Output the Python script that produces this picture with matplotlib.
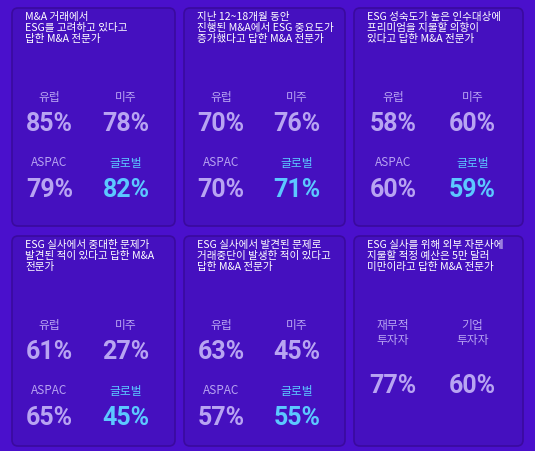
import matplotlib
matplotlib.use("Agg")
import matplotlib.pyplot as plt
from matplotlib.patches import FancyBboxPatch

plt.rcParams['font.family'] = ['Noto Sans CJK KR', 'DejaVu Sans']

titles = [
    "M&A 거래에서\nESG를 고려하고 있다고\n답한 M&A 전문가",
    "지난 12~18개월 동안\n진행된 M&A에서 ESG 중요도가\n증가했다고 답한 M&A 전문가",
    "ESG 성숙도가 높은 인수대상에\n프리미엄을 지불할 의향이\n있다고 답한 M&A 전문가",
    "ESG 실사에서 중대한 문제가\n발견된 적이 있다고 답한 M&A\n전문가",
    "ESG 실사에서 발견된 문제로\n거래중단이 발생한 적이 있다고\n답한 M&A 전문가",
    "ESG 실사를 위해 외부 자문사에\n지불할 적정 예산은 5만 달러\n미만이라고 답한 M&A 전문가",
]
region_labels = ["유럽", "미주", "ASPAC", "글로벌"]
values = [
    [85, 78, 79, 82],
    [70, 76, 70, 71],
    [58, 60, 60, 59],
    [61, 27, 65, 45],
    [63, 45, 57, 55],
]
last_labels = ["재무적\n투자자", "기업\n투자자"]
last_values = [77, 60]

BG = "#4a10cc"
PANEL = "#4510bf"
EDGE = "#3a0a9e"
LILAC = "#b8a4f2"
CYAN = "#5cc8ff"
NUMFONT = ['Roboto', 'DejaVu Sans']

fig = plt.figure(figsize=(5.35, 4.51), dpi=100, facecolor=BG)
ax = fig.add_axes([0, 0, 1, 1])
ax.set_xlim(0, 535); ax.set_ylim(451, 0); ax.axis('off')
ax.set_facecolor(BG)

cols = [(12, 175), (184, 345), (354, 523)]
rows = [(8, 226), (236, 446)]

for i in range(6):
    r, c = divmod(i, 3)
    x0, x1 = cols[c]; y0, y1 = rows[r]
    ax.add_patch(FancyBboxPatch((x0, y0), x1 - x0, y1 - y0,
                                boxstyle="round,pad=0,rounding_size=6",
                                fc=PANEL, ec=EDGE, lw=1.2))
    ax.text(x0 + 13, y0 + 4, titles[i], color="white", fontsize=7.6,
            va="top", ha="left", linespacing=1.15, weight="medium")
    w = x1 - x0
    lx = [x0 + w * 0.23, x0 + w * 0.7]
    if i < 5:
        ys = [(y0 + 89, y0 + 116), (y0 + 155, y0 + 182)]
        for k in range(4):
            col = CYAN if k == 3 else LILAC
            xx = lx[k % 2]; ly, ny = ys[k // 2]
            ax.text(xx, ly, region_labels[k], color=col, fontsize=8.5,
                    ha="center", va="center")
            ax.text(xx, ny, f"{values[i][k]}%", color=col, fontsize=18,
                    ha="center", va="center", family=NUMFONT, weight="bold")
    else:
        for k in range(2):
            ax.text(lx[k], y0 + 97, last_labels[k], color=LILAC, fontsize=8.5,
                    ha="center", va="center", linespacing=1.2)
            ax.text(lx[k], y0 + 150, f"{last_values[k]}%", color=LILAC,
                    fontsize=18, ha="center", va="center", family=NUMFONT,
                    weight="bold")

fig.savefig("out.png", dpi=100, facecolor=BG)
